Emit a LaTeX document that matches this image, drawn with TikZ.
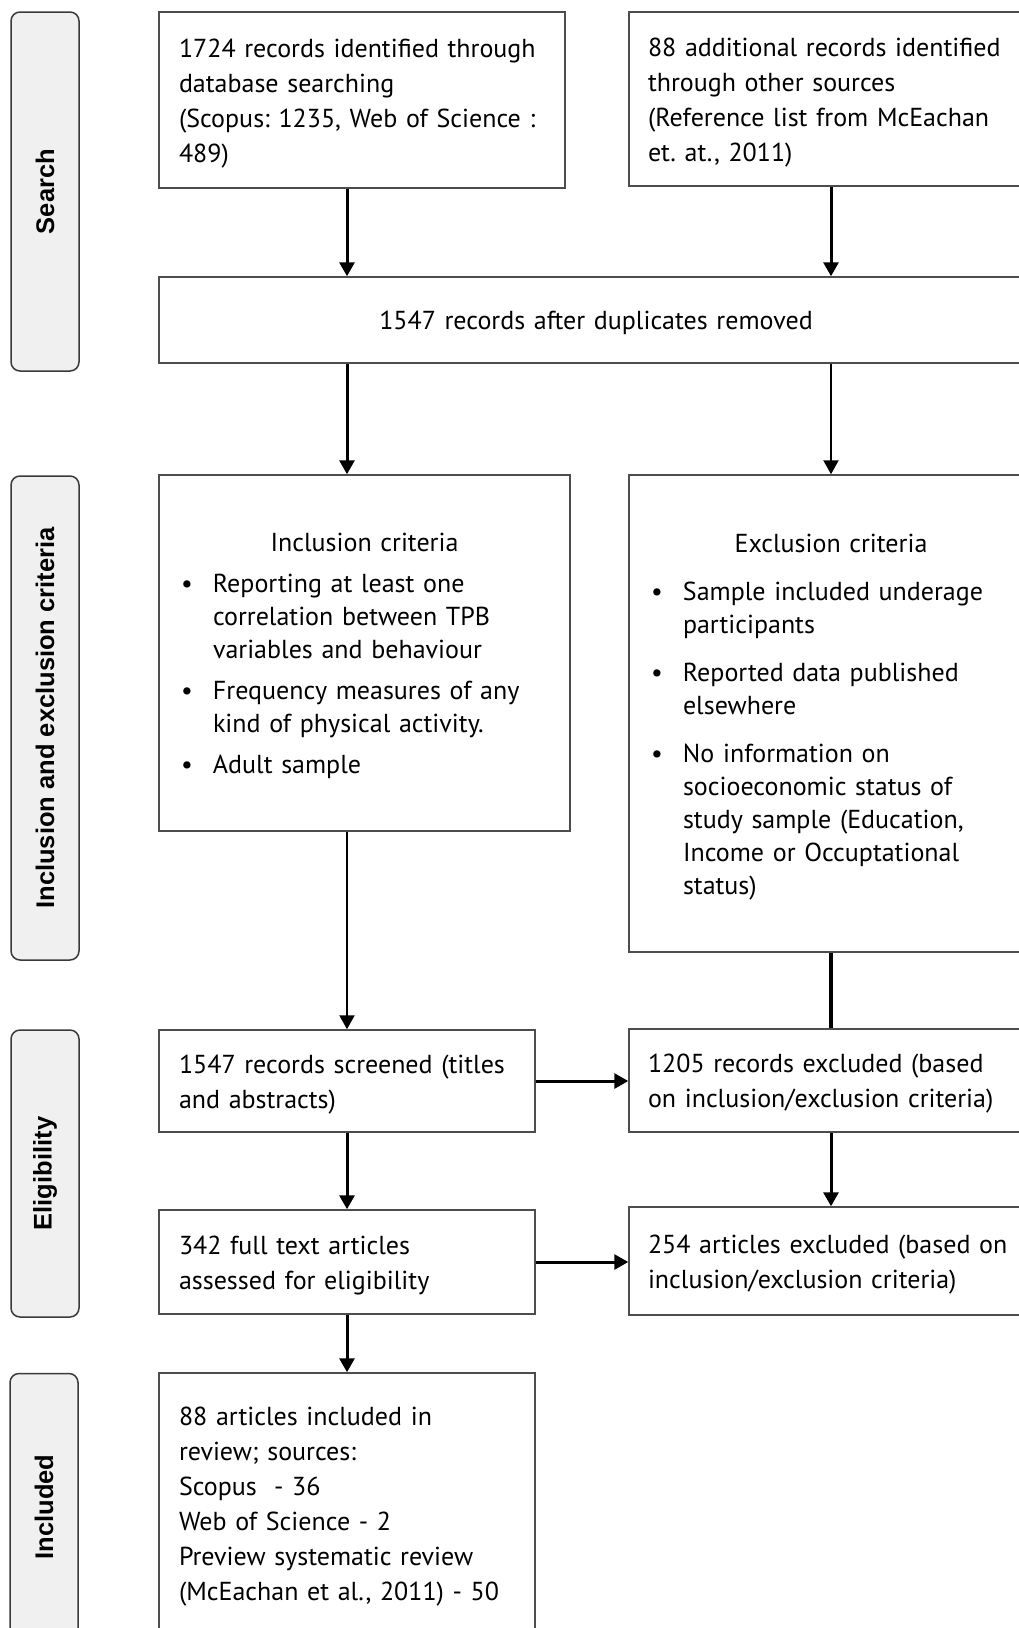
\documentclass[tikz,border=0pt]{standalone}
\usepackage{fontspec}
\setmainfont{PT Sans}
\newfontfamily\labelfont{Liberation Sans}
\usetikzlibrary{arrows.meta,positioning}
\frenchspacing

\definecolor{boxline}{HTML}{4D4D4D}
\definecolor{labelfill}{HTML}{F0F0F0}
\definecolor{labelline}{HTML}{3A3A3A}

% bullet and hanging indent for the criteria lists
\newcommand{\bul}{\makebox[32pt][l]{\textbullet}}
\newcommand{\ind}{\hspace*{32pt}}

\begin{document}
\begin{tikzpicture}[x=1pt,y=-1pt,
  stagebox/.style={draw=labelline, fill=labelfill, line width=1.5pt, rounded corners=9pt,
    rotate=90, minimum height=68pt, inner sep=0pt,
    font=\labelfont\bfseries\fontsize{25.5}{30}\selectfont},
  flowbox/.style={draw=boxline, line width=1.5pt, inner ysep=0pt, inner xsep=20pt,
    align=left, font=\fontsize{26}{35}\selectfont,
    execute at begin node={\rule{0pt}{25pt}}},
  critbox/.style={flowbox, inner xsep=22pt, font=\fontsize{26}{33}\selectfont},
  arrow/.style={line width=3pt, -{Triangle[length=14pt,width=15pt]}},
  thinarrow/.style={line width=2.2pt, -{Triangle[length=14pt,width=15pt]}}]

% Set the page size
\useasboundingbox (0,0) rectangle (1019,1628);
\clip (0,0) rectangle (1019,1628);

% Stage labels on the left
\node[stagebox, minimum width=359pt] (search) at (45,191.5) {Search};
\node[stagebox, minimum width=484pt] (criteria) at (45,718) {Inclusion and exclusion criteria};
\node[stagebox, minimum width=287pt] (eligibility) at (45,1173.5) {Eligibility};
\node[stagebox, minimum width=267pt] (inclabel) at (44,1507) {Included};

% Search
\node[flowbox, text width=366pt, minimum height=176pt] (database) at (362,100)
  {1724 records identified through\\ database searching\\ (Scopus: 1235, Web of Science :\\ 489)};
\node[flowbox, inner xsep=19pt, text width=366pt, minimum height=174pt] (othersrc) at (831,99)
  {88 additional records identified\\ through other sources\\ (Reference list from McEachan\\ et. at., 2011)};
\node[flowbox, align=center, text width=834pt, minimum height=86pt] (duplicates) at (596,320)
  {1547 records after duplicates removed};

% Criteria
\node[critbox, text width=367pt, minimum height=356pt] (inclusion) at (364.5,653)
  {{\centering Inclusion criteria\par}\vspace{8pt}
   \bul Reporting at least one\\ \ind correlation between TPB\\ \ind variables and behaviour\\[8pt]
   \bul Frequency measures of any\\ \ind kind of physical activity.\\[8pt]
   \bul Adult sample};
\node[critbox, text width=360pt, minimum height=477pt] (exclusion) at (831,713.5)
  {{\centering Exclusion criteria\par}\vspace{15pt}
   \bul Sample included underage\\ \ind participants\\[15pt]
   \bul Reported data published\\ \ind elsewhere\\[15pt]
   \bul No information on\\ \ind socioeconomic status of\\ \ind study sample (Education,\\
   \ind Income or Occuptational\\ \ind status)};

% Eligibility
\node[flowbox, text width=336pt, minimum height=102pt] (screened) at (347,1081)
  {1547 records screened (titles\\ and abstracts)};
\node[flowbox, inner xsep=19pt, text width=366pt, minimum height=103pt] (recexcl) at (831,1080.5)
  {1205 records excluded (based\\ on inclusion/exclusion criteria)};
\node[flowbox, text width=336pt, minimum height=104pt] (fulltext) at (347,1262)
  {342 full text articles\\ assessed for eligibility};
\node[flowbox, inner xsep=19pt, text width=366pt, minimum height=108pt] (artexcl) at (831,1261)
  {254 articles excluded (based on\\ inclusion/exclusion criteria)};

% Included
\node[flowbox, text width=336pt, minimum height=260pt] (included) at (347,1503)
  {88 articles included in\\ review; sources:\\ Scopus\ \ - 36\\ Web of Science - 2\\
   Preview systematic review\\ (McEachan et al., 2011) - 50};

% Connectors
\draw[arrow] (database.south -| screened) -- (duplicates.north -| screened);
\draw[arrow] (othersrc.south) -- (duplicates.north -| othersrc.south);
\draw[arrow] (duplicates.south -| screened) -- (inclusion.north -| screened);
\draw[thinarrow] (duplicates.south -| exclusion) -- (exclusion.north);
\draw[thinarrow] (inclusion.south -| screened) -- (screened.north);
\draw[line width=4pt] (exclusion.south) -- (recexcl.north);
\draw[arrow] (screened.east) -- (screened.east -| recexcl.west);
\draw[arrow] (screened.south) -- (fulltext.north);
\draw[arrow] (recexcl.south) -- (artexcl.north);
\draw[arrow] (fulltext.east) -- (fulltext.east -| artexcl.west);
\draw[arrow] (fulltext.south) -- (included.north);
\end{tikzpicture}
\end{document}
